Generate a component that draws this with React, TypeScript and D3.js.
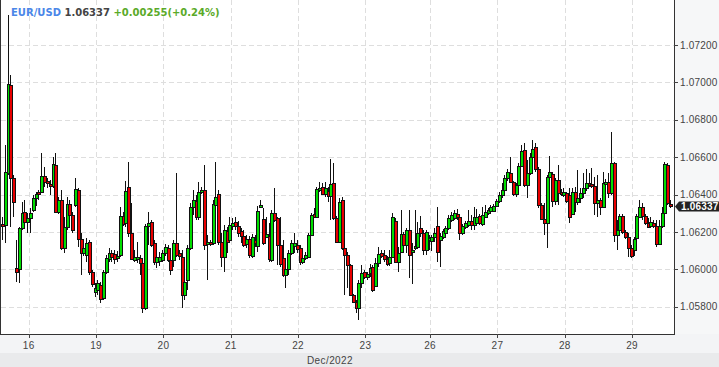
import React from 'react';
import * as d3 from 'd3';

const opens = [
  1.06243, 1.06238, 1.06516, 1.06986, 1.06489, 1.06008, 1.06002, 1.06222, 1.06307, 1.06254,
  1.06275, 1.06318, 1.06382, 1.06414, 1.06414, 1.06500, 1.06473, 1.06457, 1.06446, 1.06559,
  1.06307, 1.06371, 1.06115, 1.06227, 1.06350, 1.06291, 1.06345, 1.06425, 1.06163, 1.06088,
  1.06077, 1.06147, 1.05986, 1.05879, 1.05890, 1.05917, 1.05847, 1.05986, 1.06056, 1.06088,
  1.06083, 1.06061, 1.06077, 1.06286, 1.06248, 1.06441, 1.06195, 1.06051, 1.06056, 1.06061,
  1.06034, 1.05794, 1.06232, 1.06254, 1.06141, 1.06040, 1.06045, 1.06051, 1.06088, 1.06115,
  1.06051, 1.06051, 1.06141, 1.06088, 1.06067, 1.05863, 1.05944, 1.06115, 1.06334, 1.06366,
  1.06280, 1.06414, 1.06425, 1.06136, 1.06147, 1.06141, 1.06345, 1.06403, 1.06147, 1.06067,
  1.06206, 1.06157, 1.06232, 1.06254, 1.06232, 1.06206, 1.06179, 1.06136, 1.06163, 1.06072,
  1.06157, 1.06125, 1.06334, 1.06270, 1.06173, 1.06179, 1.06051, 1.06302, 1.06275, 1.06131,
  1.06061, 1.05970, 1.06002, 1.06088, 1.06125, 1.06131, 1.06115, 1.06040, 1.06061, 1.06067,
  1.06184, 1.06297, 1.06280, 1.06425, 1.06441, 1.06403, 1.06420, 1.06393, 1.06462, 1.06275,
  1.06147, 1.06371, 1.06115, 1.06077, 1.06024, 1.05863, 1.05826, 1.05794, 1.05928, 1.05986,
  1.05960, 1.05981, 1.06013, 1.05911, 1.06034, 1.06088, 1.06077, 1.06056, 1.06034, 1.06067,
  1.06259, 1.06040, 1.06093, 1.06190, 1.06131, 1.06211, 1.06093, 1.06115, 1.06120, 1.06222,
  1.06195, 1.06104, 1.06157, 1.06152, 1.06173, 1.06232, 1.06157, 1.06173, 1.06195, 1.06222,
  1.06264, 1.06275, 1.06297, 1.06280, 1.06195, 1.06227, 1.06238, 1.06259, 1.06238, 1.06248,
  1.06286, 1.06243, 1.06280, 1.06302, 1.06313, 1.06313, 1.06339, 1.06366, 1.06398, 1.06425,
  1.06489, 1.06516, 1.06468, 1.06403, 1.06452, 1.06553, 1.06639, 1.06452, 1.06516, 1.06601,
  1.06655, 1.06537, 1.06345, 1.06270, 1.06248, 1.06494, 1.06510, 1.06366, 1.06478, 1.06414,
  1.06398, 1.06409, 1.06398, 1.06297, 1.06414, 1.06361, 1.06382, 1.06409, 1.06436, 1.06462,
  1.06457, 1.06446, 1.06355, 1.06371, 1.06334, 1.06457, 1.06468, 1.06409, 1.06569, 1.06184,
  1.06211, 1.06286, 1.06200, 1.06173, 1.06115, 1.06104, 1.06168, 1.06280, 1.06334, 1.06286,
  1.06248, 1.06232, 1.06248, 1.06232, 1.06136, 1.06232, 1.06302, 1.06559, 1.06352,
];

const highs = [
  1.06280, 1.06666, 1.07361, 1.07040, 1.06505, 1.06157, 1.06227, 1.06361, 1.06371, 1.06302,
  1.06329, 1.06398, 1.06414, 1.06425, 1.06623, 1.06548, 1.06489, 1.06478, 1.06601, 1.06623,
  1.06387, 1.06425, 1.06280, 1.06387, 1.06371, 1.06307, 1.06489, 1.06436, 1.06195, 1.06131,
  1.06168, 1.06157, 1.05997, 1.05928, 1.05944, 1.05933, 1.05997, 1.06077, 1.06115, 1.06104,
  1.06104, 1.06099, 1.06334, 1.06307, 1.06473, 1.06575, 1.06355, 1.06104, 1.06147, 1.06077,
  1.06040, 1.06243, 1.06307, 1.06264, 1.06157, 1.06083, 1.06093, 1.06104, 1.06136, 1.06131,
  1.06104, 1.06157, 1.06516, 1.06104, 1.06104, 1.05944, 1.06131, 1.06355, 1.06425, 1.06398,
  1.06468, 1.06441, 1.06559, 1.06184, 1.06157, 1.06371, 1.06575, 1.06425, 1.06195, 1.06238,
  1.06227, 1.06280, 1.06275, 1.06280, 1.06259, 1.06222, 1.06211, 1.06184, 1.06179, 1.06190,
  1.06184, 1.06339, 1.06371, 1.06329, 1.06280, 1.06248, 1.06318, 1.06436, 1.06280, 1.06280,
  1.06157, 1.06013, 1.06104, 1.06157, 1.06195, 1.06157, 1.06131, 1.06072, 1.06093, 1.06195,
  1.06302, 1.06329, 1.06441, 1.06468, 1.06462, 1.06468, 1.06441, 1.06591, 1.06569, 1.06286,
  1.06382, 1.06387, 1.06120, 1.06093, 1.06029, 1.05869, 1.05837, 1.05944, 1.06024, 1.05997,
  1.05986, 1.06029, 1.06024, 1.06061, 1.06120, 1.06104, 1.06104, 1.06072, 1.06104, 1.06302,
  1.06275, 1.06120, 1.06318, 1.06200, 1.06222, 1.06318, 1.06141, 1.06318, 1.06254, 1.06286,
  1.06211, 1.06211, 1.06184, 1.06184, 1.06222, 1.06334, 1.06195, 1.06216, 1.06232, 1.06291,
  1.06307, 1.06318, 1.06323, 1.06291, 1.06243, 1.06259, 1.06318, 1.06291, 1.06334, 1.06323,
  1.06297, 1.06334, 1.06345, 1.06329, 1.06345, 1.06350, 1.06377, 1.06414, 1.06462, 1.06505,
  1.06537, 1.06601, 1.06473, 1.06462, 1.06569, 1.06666, 1.06676, 1.06585, 1.06623, 1.06692,
  1.06676, 1.06548, 1.06355, 1.06355, 1.06505, 1.06607, 1.06521, 1.06489, 1.06559, 1.06430,
  1.06436, 1.06414, 1.06436, 1.06436, 1.06441, 1.06532, 1.06436, 1.06516, 1.06537, 1.06516,
  1.06543, 1.06494, 1.06505, 1.06382, 1.06521, 1.06484, 1.06516, 1.06735, 1.06575, 1.06264,
  1.06297, 1.06297, 1.06211, 1.06195, 1.06131, 1.06173, 1.06297, 1.06371, 1.06355, 1.06297,
  1.06275, 1.06280, 1.06264, 1.06264, 1.06264, 1.06334, 1.06575, 1.06569, 1.06371,
];

const lows = [
  1.06157, 1.06141, 1.06505, 1.06227, 1.06280, 1.05933, 1.05928, 1.06211, 1.06248, 1.06195,
  1.06195, 1.06307, 1.06339, 1.06371, 1.06409, 1.06441, 1.06436, 1.06398, 1.06436, 1.06302,
  1.06297, 1.06104, 1.06088, 1.06211, 1.06275, 1.06195, 1.06334, 1.06120, 1.05970, 1.06072,
  1.06040, 1.05970, 1.05906, 1.05853, 1.05863, 1.05821, 1.05837, 1.05976, 1.06040, 1.06040,
  1.06029, 1.06040, 1.06067, 1.06232, 1.06227, 1.06173, 1.06051, 1.06040, 1.06034, 1.05970,
  1.05767, 1.05783, 1.06131, 1.06120, 1.06024, 1.06008, 1.06018, 1.06040, 1.06072, 1.06040,
  1.05970, 1.06013, 1.06067, 1.06051, 1.05794, 1.05837, 1.05890, 1.06104, 1.06291, 1.06264,
  1.06264, 1.06403, 1.06104, 1.05944, 1.06125, 1.06131, 1.06334, 1.06131, 1.06013, 1.05986,
  1.06088, 1.06147, 1.06211, 1.06211, 1.06173, 1.06141, 1.06120, 1.06115, 1.06061, 1.06061,
  1.06120, 1.06093, 1.06329, 1.06131, 1.06168, 1.06040, 1.06040, 1.06254, 1.06024, 1.06013,
  1.05960, 1.05901, 1.05970, 1.06077, 1.06088, 1.06088, 1.06024, 1.06029, 1.06051, 1.06061,
  1.06179, 1.06275, 1.06275, 1.06414, 1.06398, 1.06387, 1.06361, 1.06264, 1.06264, 1.06141,
  1.06141, 1.06104, 1.05863, 1.05901, 1.05858, 1.05821, 1.05767, 1.05730, 1.05901, 1.05949,
  1.05944, 1.05960, 1.05879, 1.05906, 1.06013, 1.06061, 1.06040, 1.06018, 1.06018, 1.06061,
  1.06034, 1.05986, 1.06088, 1.06120, 1.06088, 1.05954, 1.05922, 1.06104, 1.06115, 1.06173,
  1.06077, 1.06077, 1.06104, 1.06099, 1.06147, 1.06040, 1.06013, 1.06163, 1.06184, 1.06211,
  1.06254, 1.06264, 1.06264, 1.06157, 1.06184, 1.06216, 1.06227, 1.06211, 1.06211, 1.06232,
  1.06238, 1.06232, 1.06275, 1.06291, 1.06297, 1.06307, 1.06334, 1.06355, 1.06382, 1.06414,
  1.06473, 1.06462, 1.06393, 1.06387, 1.06441, 1.06548, 1.06441, 1.06382, 1.06505, 1.06585,
  1.06521, 1.06329, 1.06264, 1.06184, 1.06115, 1.06478, 1.06334, 1.06345, 1.06345, 1.06393,
  1.06387, 1.06355, 1.06248, 1.06291, 1.06307, 1.06345, 1.06355, 1.06382, 1.06420, 1.06441,
  1.06436, 1.06291, 1.06280, 1.06291, 1.06329, 1.06425, 1.06382, 1.06398, 1.06147, 1.06104,
  1.06195, 1.06190, 1.06163, 1.06067, 1.06061, 1.06072, 1.06157, 1.06275, 1.06264, 1.06238,
  1.06222, 1.06222, 1.06222, 1.06120, 1.06131, 1.06222, 1.06297, 1.06345, 1.06329,
];

const closes = [
  1.06232, 1.06521, 1.06992, 1.06489, 1.06361, 1.05986, 1.06222, 1.06302, 1.06254, 1.06275,
  1.06302, 1.06382, 1.06403, 1.06403, 1.06500, 1.06468, 1.06462, 1.06446, 1.06564, 1.06307,
  1.06371, 1.06115, 1.06227, 1.06350, 1.06291, 1.06211, 1.06430, 1.06163, 1.06088, 1.06115,
  1.06141, 1.05986, 1.05922, 1.05901, 1.05928, 1.05842, 1.05986, 1.06061, 1.06088, 1.06067,
  1.06056, 1.06072, 1.06286, 1.06243, 1.06420, 1.06195, 1.06056, 1.06067, 1.06067, 1.06034,
  1.05794, 1.06232, 1.06248, 1.06131, 1.06040, 1.06067, 1.06067, 1.06088, 1.06120, 1.06051,
  1.05997, 1.06141, 1.06077, 1.06072, 1.05863, 1.05933, 1.06115, 1.06334, 1.06371, 1.06280,
  1.06414, 1.06425, 1.06131, 1.06147, 1.06136, 1.06350, 1.06387, 1.06147, 1.06067, 1.06211,
  1.06147, 1.06238, 1.06248, 1.06232, 1.06195, 1.06179, 1.06131, 1.06163, 1.06077, 1.06173,
  1.06141, 1.06313, 1.06345, 1.06141, 1.06190, 1.06056, 1.06302, 1.06264, 1.06131, 1.06029,
  1.05970, 1.06002, 1.06088, 1.06141, 1.06141, 1.06109, 1.06040, 1.06061, 1.06077, 1.06184,
  1.06291, 1.06280, 1.06430, 1.06436, 1.06403, 1.06436, 1.06393, 1.06457, 1.06275, 1.06147,
  1.06361, 1.06115, 1.06077, 1.06024, 1.05863, 1.05826, 1.05794, 1.05928, 1.05981, 1.05960,
  1.05976, 1.06008, 1.05890, 1.06034, 1.06083, 1.06072, 1.06056, 1.06029, 1.06067, 1.06280,
  1.06040, 1.06088, 1.06190, 1.06131, 1.06211, 1.06077, 1.06104, 1.06125, 1.06195, 1.06195,
  1.06104, 1.06200, 1.06168, 1.06173, 1.06195, 1.06093, 1.06179, 1.06206, 1.06222, 1.06275,
  1.06291, 1.06302, 1.06280, 1.06195, 1.06232, 1.06248, 1.06259, 1.06238, 1.06280, 1.06280,
  1.06248, 1.06291, 1.06307, 1.06318, 1.06334, 1.06339, 1.06366, 1.06398, 1.06425, 1.06489,
  1.06521, 1.06468, 1.06403, 1.06452, 1.06553, 1.06633, 1.06452, 1.06516, 1.06601, 1.06644,
  1.06537, 1.06345, 1.06270, 1.06248, 1.06494, 1.06521, 1.06366, 1.06478, 1.06409, 1.06403,
  1.06414, 1.06366, 1.06280, 1.06414, 1.06361, 1.06382, 1.06409, 1.06436, 1.06462, 1.06452,
  1.06446, 1.06355, 1.06371, 1.06334, 1.06462, 1.06468, 1.06409, 1.06569, 1.06184, 1.06211,
  1.06286, 1.06200, 1.06173, 1.06115, 1.06072, 1.06163, 1.06286, 1.06334, 1.06286, 1.06248,
  1.06227, 1.06254, 1.06232, 1.06136, 1.06232, 1.06302, 1.06564, 1.06355, 1.06337,
];

const dayLabels = ['16', '19', '20', '21', '22', '23', '26', '27', '28', '29'];
const dayStartIndex = [9.5, 33.5, 57.5, 81.5, 105.5, 129.5, 152.5, 176.5, 200.5, 224.5];
const priceTicks = [1.058, 1.06, 1.062, 1.064, 1.066, 1.068, 1.07, 1.072];
const symbol = 'EUR/USD';
const lastPrice = 1.06337;
const changeText = '+0.00255(+0.24%)';
const monthLabel = 'Dec/2022';

const W = 719;
const H = 367;
const PLOT_R = 674;
const PLOT_B = 334;

export default function App() {
  const n = closes.length;
  const x = d3.scaleLinear().domain([0, n - 1]).range([2, 670]);
  const y = d3.scaleLinear().domain([1.058, 1.072]).range([306.8, 45]);
  const fmt = d3.format('.5f');
  const axisFont = "'Liberation Sans', Arial, sans-serif";
  const lastY = y(lastPrice);

  return (
    <svg
      width={W}
      height={H}
      style={{ position: 'absolute', left: 0, top: 0, display: 'block' }}
      shapeRendering="crispEdges"
    >
      <rect x={0} y={0} width={W} height={H} fill="#ffffff" />
      <rect x={PLOT_R} y={0} width={W - PLOT_R} height={PLOT_B} fill="#f6f7f8" />
      <rect x={0} y={PLOT_B} width={W} height={19} fill="#f3f4f6" />
      <rect x={0} y={PLOT_B + 19} width={W} height={H - PLOT_B - 19} fill="#e9eaec" />

      {priceTicks.map((p) => (
        <line
          key={'h' + p}
          x1={1}
          x2={PLOT_R}
          y1={Math.round(y(p)) + 0.5}
          y2={Math.round(y(p)) + 0.5}
          stroke="#dedede"
          strokeDasharray="5,3"
        />
      ))}
      {dayStartIndex.map((d, i) => (
        <line
          key={'v' + i}
          x1={Math.round(x(d)) + 0.5}
          x2={Math.round(x(d)) + 0.5}
          y1={0}
          y2={PLOT_B}
          stroke="#dedede"
          strokeDasharray="5,3"
        />
      ))}

      {closes.map((c, i) => {
        const o = opens[i];
        const px = Math.round(x(i));
        const up = c >= o;
        const top = Math.round(y(Math.max(o, c)));
        const bot = Math.round(y(Math.min(o, c)));
        const h = Math.max(1, bot - top);
        return (
          <g key={i}>
            <line
              x1={px + 0.5}
              x2={px + 0.5}
              y1={Math.round(y(highs[i]))}
              y2={Math.round(y(lows[i]))}
              stroke="#111"
              strokeWidth={1}
            />
            <rect
              x={px - 0.5}
              y={top + 0.5}
              width={3}
              height={h}
              fill={up ? '#00dd00' : '#e80000'}
              stroke="#111"
              strokeWidth={1}
            />
          </g>
        );
      })}

      <line x1={0.5} x2={0.5} y1={0} y2={PLOT_B} stroke="#333" />
      <line x1={PLOT_R + 0.5} x2={PLOT_R + 0.5} y1={0} y2={PLOT_B + 1} stroke="#333" />
      <line x1={0} x2={PLOT_R + 1} y1={PLOT_B + 0.5} y2={PLOT_B + 0.5} stroke="#333" />

      {priceTicks.map((p) => (
        <g key={'yt' + p}>
          <line
            x1={PLOT_R}
            x2={PLOT_R + 4}
            y1={Math.round(y(p)) + 0.5}
            y2={Math.round(y(p)) + 0.5}
            stroke="#444"
          />
          <text
            x={680}
            y={y(p)}
            dy="0.35em"
            fontFamily={axisFont}
            fontSize={10}
            letterSpacing={0.2}
            fill="#444"
          >
            {fmt(p)}
          </text>
        </g>
      ))}

      {dayStartIndex.map((d, i) => (
        <g key={'xt' + i}>
          <line
            x1={Math.round(x(d)) + 0.5}
            x2={Math.round(x(d)) + 0.5}
            y1={PLOT_B}
            y2={PLOT_B + 4}
            stroke="#444"
          />
          <text
            x={x(d)}
            y={PLOT_B + 11}
            dy="0.35em"
            textAnchor="middle"
            fontFamily={axisFont}
            fontSize={10}
            letterSpacing={0.3}
            fill="#444"
          >
            {dayLabels[i]}
          </text>
        </g>
      ))}
      <text
        x={330}
        y={360}
        dy="0.35em"
        textAnchor="middle"
        fontFamily={axisFont}
        fontSize={10}
        letterSpacing={0.4}
        fill="#444"
      >
        {monthLabel}
      </text>

      <path
        d={`M${PLOT_R + 1},${lastY} L${PLOT_R + 5},${lastY - 5} L${W},${lastY - 5} L${W},${lastY + 5} L${PLOT_R + 5},${lastY + 5} Z`}
        fill="#222"
        shapeRendering="auto"
      />
      <text
        x={681}
        y={lastY}
        dy="0.35em"
        fontFamily={axisFont}
        fontSize={10}
        fontWeight="bold"
        letterSpacing={0.2}
        fill="#ffffff"
      >
        {fmt(lastPrice)}
      </text>

      <text
        x={11}
        y={15.5}
        fontFamily="'DejaVu Sans', Verdana, sans-serif"
        fontSize={10}
        fontWeight="bold"
        shapeRendering="auto"
      >
        <tspan fill="#4a86e8">{symbol}</tspan>
        <tspan fill="#444444"> {fmt(lastPrice)}</tspan>
        <tspan fill="#5aaa28"> {changeText}</tspan>
      </text>
    </svg>
  );
}
